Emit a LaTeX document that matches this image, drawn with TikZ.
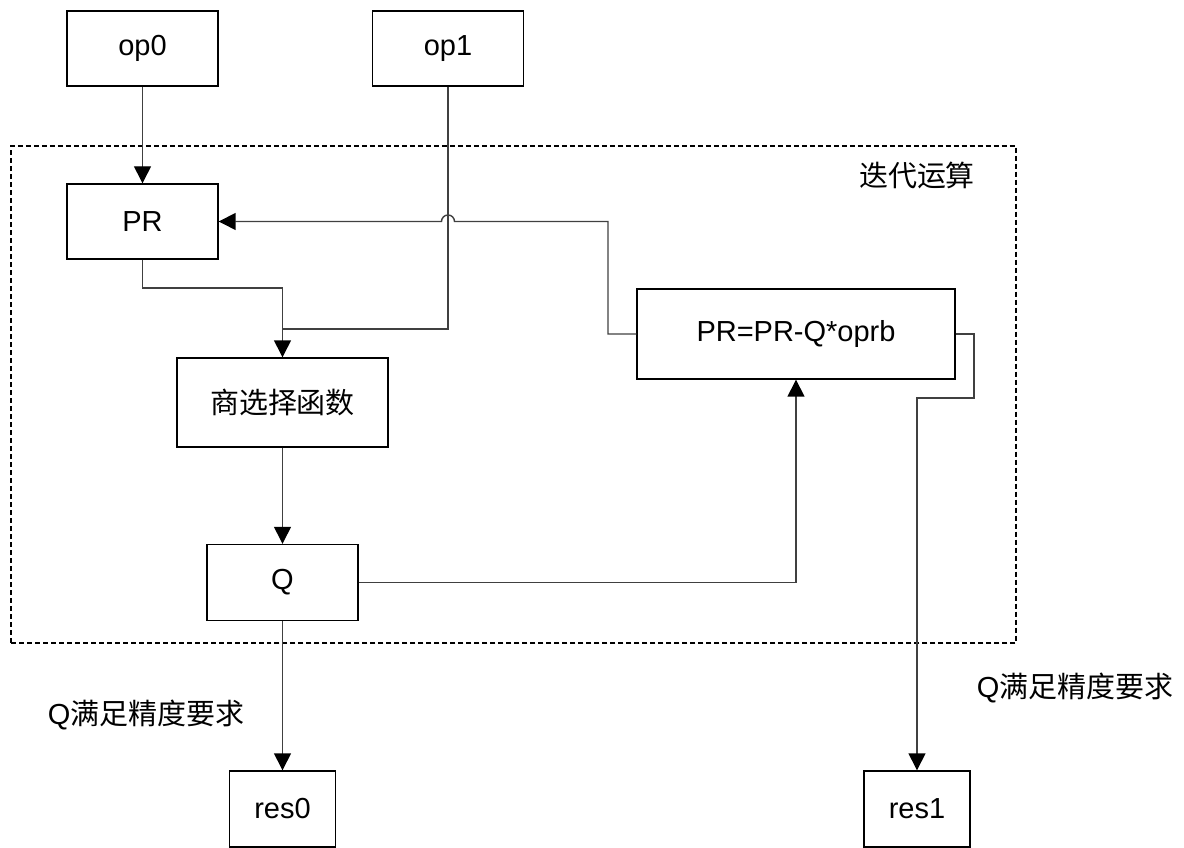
\documentclass[tikz,border=0pt]{standalone}
\usepackage{fontspec}
\setmainfont{Liberation Sans}
\newfontfamily\cjk{Noto Sans CJK SC}
\usetikzlibrary{arrows.meta}

\begin{document}
\begin{tikzpicture}[x=0.02cm,y=0.02cm,
    font=\fontsize{16.5}{20}\selectfont,
    box/.style={draw,line width=0.8pt,minimum width=#1*0.02cm,inner sep=0pt},
    box/.default=151,
    conn/.style={line width=0.8pt,draw=black!75},
    arr/.style={conn,-{Triangle[length=0.34cm,width=0.34cm,color=black]}}]
        \useasboundingbox (0,0) rectangle (1184,848);
        % iteration frame
        \draw[line width=0.6pt,dash pattern=on 0.1cm off 0.06cm] (11,205) rectangle (1016,702);
        \node at (917,673) {\cjk 迭代运算};
        % boxes
        \node[box,minimum height=1.5cm] (op0) at (142.5,799.5) {op0};
        \node[box,minimum height=1.5cm] (op1) at (448,799.5) {op1};
        \node[box,minimum height=1.5cm] (PR) at (142.5,626.5) {PR};
        \node[box=211,minimum height=1.78cm] (sel) at (282.5,445.5) {\cjk 商选择函数};
        \node[box,minimum height=1.52cm] (Q) at (282.5,265.5) {Q};
        \node[box=318,minimum height=1.8cm] (calc) at (796,514) {PR=PR-Q*oprb};
        \foreach \n/\x in {res0/282.5, res1/917} {
          \node[box=106,minimum height=1.52cm] (\n) at (\x,39) {\n};
        }
        \node at (146,133) {Q{\cjk 满足精度要求}};
        \node at (1075,160) {Q{\cjk 满足精度要求}};
        % connectors
        \coordinate (join) at (282.5,519);
        \draw[arr] (op0) -- (PR);
        \draw[arr] (PR.south) -- (142.5,560) -| (sel.north);
        \draw[conn] (op1.south) |- (join);
        \draw[arr] (sel) -- (Q);
        \draw[arr] (Q.east) -| (calc.south);
        \draw[arr] (calc.west) -- (608,514) -- (608,626.5) -- (454.5,626.5)
          arc[start angle=0,end angle=180,radius=6.5] -- (PR.east);
        \draw[arr] (calc.east) -- (974,514) -- (974,450) -| (res1.north);
        \draw[arr] (Q) -- (res0);
\end{tikzpicture}
\end{document}
